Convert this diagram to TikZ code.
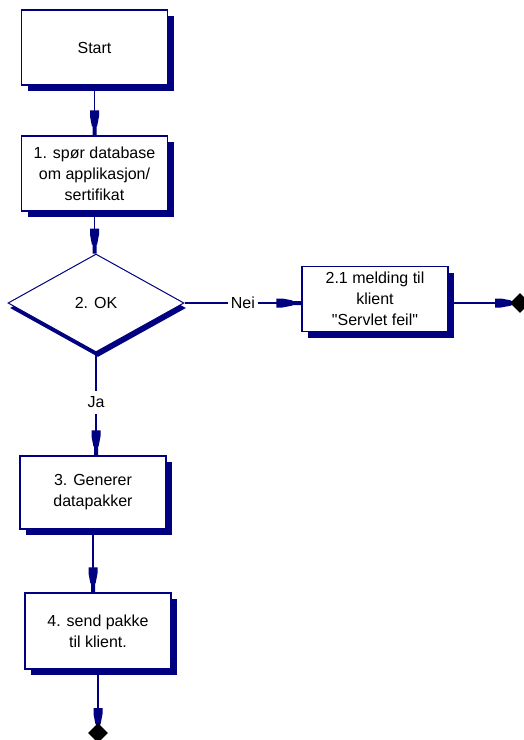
\documentclass[tikz,border=0pt]{standalone}
\usepackage{fontspec}
\setmainfont{Liberation Sans}
\usetikzlibrary{shapes.geometric,shadows,arrows.meta}
\definecolor{navy}{HTML}{000080}

% Flowchart arrow tip: wide block, taper, narrow stub ending at the tip
\pgfdeclarearrow{
  name = Flow,
  setup code = {
    \pgfarrowssettipend{0pt}
    \pgfarrowssetlineend{-12pt}
    \pgfarrowssetvisualbackend{-25pt}
    \pgfarrowssetbackend{-25pt}
    \pgfarrowshullpoint{0pt}{2pt}
    \pgfarrowshullpoint{-25pt}{4.5pt}
    \pgfarrowshullpoint{-25pt}{-4.5pt}
    \pgfarrowshullpoint{0pt}{-2pt}
  },
  drawing code = {
    \pgfpathmoveto{\pgfqpoint{0pt}{2pt}}
    \pgfpathlineto{\pgfqpoint{-9pt}{2pt}}
    \pgfpathlineto{\pgfqpoint{-9pt}{2.6pt}}
    \pgfpathlineto{\pgfqpoint{-19pt}{4.5pt}}
    \pgfpathlineto{\pgfqpoint{-25pt}{4.5pt}}
    \pgfpathlineto{\pgfqpoint{-25pt}{-4.5pt}}
    \pgfpathlineto{\pgfqpoint{-19pt}{-4.5pt}}
    \pgfpathlineto{\pgfqpoint{-9pt}{-2.6pt}}
    \pgfpathlineto{\pgfqpoint{-9pt}{-2pt}}
    \pgfpathlineto{\pgfqpoint{0pt}{-2pt}}
    \pgfpathclose
    \pgfusepathqfill
  }
}

\tikzset{
  txt/.style={font=\fontsize{16}{21}\selectfont, text=black},
  box/.style={txt, draw=navy, line width=1.3pt, fill=white,
    minimum width=146pt, inner sep=0pt, align=center,
    general shadow={fill=navy, shadow xshift=6pt, shadow yshift=-6pt}},
  decision/.style={txt, diamond, draw=navy, line width=1pt, fill=white,
    minimum width=176pt, minimum height=98pt, inner sep=0pt,
    general shadow={fill=navy, shadow xshift=2pt, shadow yshift=-5pt}},
  conn/.style={color=navy, line width=1.3pt, -{Flow}},
  lbl/.style={txt, fill=white, inner xsep=3pt, inner ysep=6pt},
  enddot/.style={diamond, fill=black, minimum width=20pt, minimum height=20pt, inner sep=0pt}
}

\begin{document}
\begin{tikzpicture}[x=1pt,y=-1pt]
  \useasboundingbox (0,0) rectangle (523,740);

  % process steps
  \node[box, minimum height=75pt] (start) at (94.5,47.5) {Start};
  \node[box, minimum height=75pt] (b1) at (94.5,173.5)
    {1. spør database\\om applikasjon/\\sertifikat};
  \node[decision] (d) at (96,303) {2. OK};
  \node[box, minimum height=65pt] (b21) at (375,299)
    {2.1 melding til\\klient\\\textquotedbl Servlet feil\textquotedbl};
  \node[box, minimum height=73pt] (b3) at (93,492.5)
    {3. Generer\\datapakker};
  \node[box, minimum height=76pt] (b4) at (98,631)
    {4. send pakke\\til klient.};

  % flow ends
  \coordinate (endR) at (520,303);
  \coordinate (endB) at (98,733);

  % connectors
  \draw[conn] (start) -- (b1);
  \draw[conn] (b1.south) -- (b1.south |- d.north);
  \draw[conn] (d.east) -- node[lbl] (nei) {Nei} (d.east -| b21.west);
  \draw[conn] (b21.east |- endR) -- (endR);
  \draw[conn] (d.south) -- node[lbl, pos=0.485] (ja) {Ja} (d.south |- b3.north);
  \draw[conn] (b3.south) -- (b3.south |- b4.north);
  \draw[conn] (b4.south) -- (endB);

  % terminal markers
  \node[enddot] (endRdot) at (endR) {};
  \node[enddot] (endBdot) at (endB) {};
\end{tikzpicture}
\end{document}
